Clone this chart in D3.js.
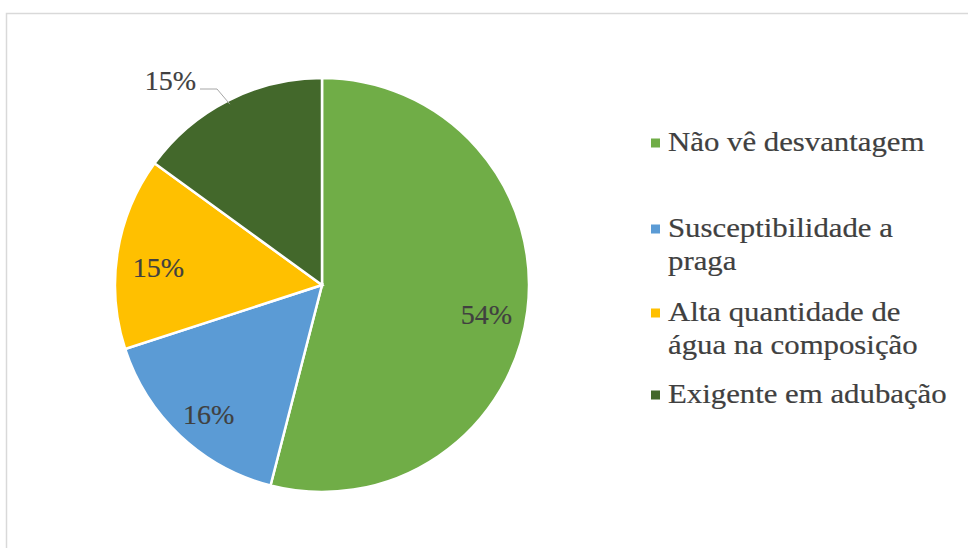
<!DOCTYPE html>
<html><head><meta charset="utf-8">
<script src="https://cdn.jsdelivr.net/npm/d3@7"></script>
<style>body{margin:0;background:#fff}svg{display:block}</style>
</head><body>
<svg id="c" width="968" height="548"></svg>
<script>
const categories = ["Não vê desvantagem","Susceptibilidade a praga","Alta quantidade de água na composição","Exigente em adubação"];
const legendLines = [["Não vê desvantagem"],["Susceptibilidade a","praga"],["Alta quantidade de","água na composição"],["Exigente em adubação"]];
const values = [54,16,15,15];
const labels = ["54%","16%","15%","15%"];
const colors = ["#70AD47","#5B9BD5","#FFC000","#43682B"];

const svg = d3.select("#c");
svg.append("rect").attr("x",6.5).attr("y",13.5).attr("width",980).attr("height",560)
  .attr("fill","#fff").attr("stroke","#d9d9d9").attr("stroke-width",1.5);

const cx=322, cy=285, R=207;
const pie = d3.pie().sort(null).value(d=>d)(values);
const arc = d3.arc().innerRadius(0).outerRadius(R);
const g = svg.append("g").attr("transform",`translate(${cx},${cy})`);
g.selectAll("path").data(pie).join("path").attr("d",arc)
  .attr("fill",(d,i)=>colors[i]).attr("stroke","#fff").attr("stroke-width",2.5);

const font = "'Liberation Serif','Times New Roman',serif";
const labArc = d3.arc().innerRadius(R*0.8).outerRadius(R*0.8);
g.selectAll("text.in").data(pie.slice(0,3)).join("text").attr("class","in")
  .attr("x",d=>labArc.centroid(d)[0]).attr("y",d=>labArc.centroid(d)[1]+18)
  .attr("text-anchor","middle")
  .attr("font-family",font).attr("font-size",28).attr("fill","#404040")
  .attr("stroke","#404040").attr("stroke-width",0.2)
  .text((d,i)=>labels[i]);

// outside label for last slice with leader
const last = pie[3];
const mid = (last.startAngle+last.endAngle)/2;
const ex = Math.sin(mid)*(R-4), ey = -Math.cos(mid)*(R-4);
const lx = 200-cx, ly = 89-cy;
g.append("path").attr("d",`M${lx},${ly} L${lx+17},${ly} L${ex},${ey}`)
  .attr("fill","none").attr("stroke","#a6a6a6").attr("stroke-width",1);
g.append("text").attr("x",lx-4).attr("y",ly+1).attr("text-anchor","end")
  .attr("font-family",font).attr("font-size",28).attr("fill","#404040")
  .attr("stroke","#404040").attr("stroke-width",0.2).text(labels[3]);

// legend
const legY = [143,229,313,395];
const lg = svg.append("g");
legendLines.forEach((lines,i)=>{
  lg.append("rect").attr("x",651).attr("y",legY[i]-4.5).attr("width",9).attr("height",9).attr("fill",colors[i]);
  lines.forEach((t,j)=>{
    lg.append("g").attr("transform",`translate(668,${legY[i]+8+j*33}) scale(1.1,1)`)
      .append("text").attr("x",0).attr("y",0)
      .attr("font-family",font).attr("font-size",28).attr("fill","#404040")
      .attr("stroke","#404040").attr("stroke-width",0.2).text(t);
  });
});
</script>
</body></html>
